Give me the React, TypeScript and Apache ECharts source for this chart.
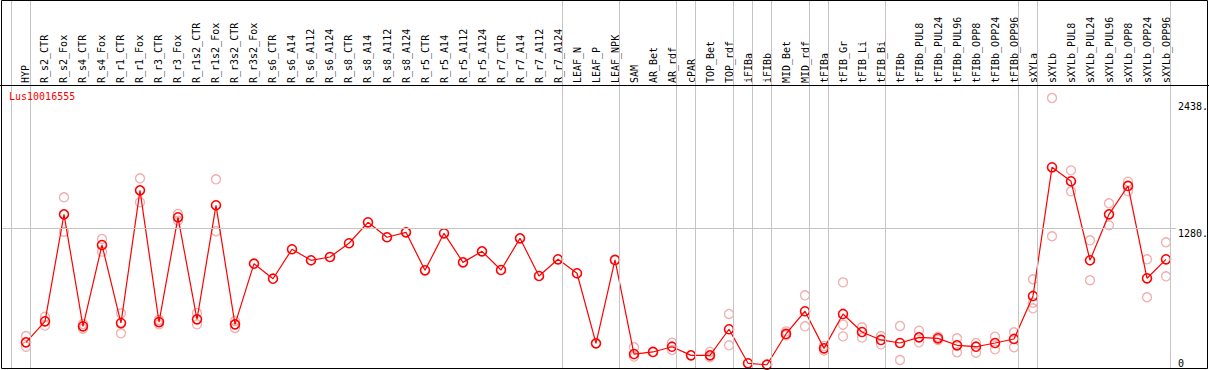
import React, { useEffect, useRef } from "react";
import * as echarts from "echarts";

const geneName = "Lus10016555";

const categories = [
  "HYP", "R_s2_CTR", "R_s2_Fox", "R_s4_CTR", "R_s4_Fox", "R_r1_CTR", "R_r1_Fox",
  "R_r3_CTR", "R_r3_Fox", "R_r1s2_CTR", "R_r1s2_Fox", "R_r3s2_CTR", "R_r3s2_Fox",
  "R_s6_CTR", "R_s6_A14", "R_s6_A112", "R_s6_A124", "R_s8_CTR", "R_s8_A14",
  "R_s8_A112", "R_s8_A124", "R_r5_CTR", "R_r5_A14", "R_r5_A112", "R_r5_A124",
  "R_r7_CTR", "R_r7_A14", "R_r7_A112", "R_r7_A124", "LEAF_N", "LEAF_P", "LEAF_NPK",
  "SAM", "AR_Bet", "AR_rdf", "cPAR", "TOP_Bet", "TOP_rdf", "iFIBa", "iFIBb",
  "MID_Bet", "MID_rdf", "tFIBa", "tFIB_Gr", "tFIB_Li", "tFIB_Bi", "tFIBb",
  "tFIBb_PUL8", "tFIBb_PUL24", "tFIBb_PUL96", "tFIBb_OPP8", "tFIBb_OPP24", "tFIBb_OPP96",
  "sXYLa", "sXYLb", "sXYLb_PUL8", "sXYLb_PUL24", "sXYLb_PUL96", "sXYLb_OPP8",
  "sXYLb_OPP24", "sXYLb_OPP96",
];

const meanValues = [
  235, 428, 1408, 382, 1127, 412, 1628, 421, 1381, 446, 1491, 400, 956,
  818, 1088, 987, 1017, 1143, 1335, 1198, 1243, 895, 1234, 968, 1069,
  898, 1188, 843, 996, 868, 226, 990,
  128, 147, 195, 116, 116, 355, 43, 30,
  312, 520, 180, 495, 330, 257, 229,
  281, 272, 208, 195, 229, 266,
  660, 1839, 1711, 987, 1408, 1668, 822, 996,
];

const replicateValues: number[][] = [
  [293, 195], [470, 388], [1564, 1249], [403, 360], [1182, 1066], [501, 318], [1738, 1518],
  [440, 400], [1411, 1350], [504, 400], [1729, 1253], [431, 367], [],
  [], [], [], [], [], [],
  [], [], [], [], [], [],
  [], [], [], [], [], [], [],
  [190, 104], [], [232, 165], [], [147, 98], [495, 208], [], [],
  [336, 300], [666, 382], [202, 159], [785, 397, 290], [373, 278], [293, 217], [385, 73],
  [342, 235], [287, 257], [272, 144], [229, 140], [287, 171], [327, 190],
  [813, 598, 547], [2474, 1207], [1811, 1619], [1170, 804], [1509, 1307], [1707, 1619],
  [996, 648], [1152, 840],
];

// first category of each sample group (a divider is drawn before each, plus one after the last)
const groupStarts = [
  "HYP", "R_s2_CTR", "LEAF_N", "SAM", "cPAR", "TOP_Bet", "iFIBa", "iFIBb",
  "MID_Bet", "tFIBa", "tFIB_Gr", "tFIBb", "sXYLa", "sXYLb",
];

const yTickLabels = [1280, 2438];
const yZeroLabel = [0];
const referenceLevel = 1280;

const MONO = "'DejaVu Sans Mono', 'Liberation Mono', monospace";

export default function App() {
  const ref = useRef<HTMLDivElement>(null);

  useEffect(() => {
    if (!ref.current) return;
    const chart = echarts.init(ref.current, undefined, { renderer: "svg" });

    const meanData = meanValues.map((v, i) => [i, v]);
    const repData: number[][] = [];
    replicateValues.forEach((arr, i) => arr.forEach((v) => repData.push([i, v])));

    const dividerShift = 0.237;
    const dividers = groupStarts.map((name) => ({ xAxis: categories.indexOf(name) - 1 + dividerShift }));
    dividers.push({ xAxis: categories.length - 1 + dividerShift });

    const gray = "#c4c4c4";

    const option: any = {
      animation: false,
      backgroundColor: "#ffffff",
      title: {
        text: geneName,
        left: 9,
        top: 91,
        padding: 0,
        textStyle: { fontFamily: MONO, fontSize: 10, fontWeight: "normal", color: "#ff0000" },
      },
      grid: {
        left: 2,
        top: 0,
        width: 1174,
        height: 368,
        containLabel: false,
        outerBoundsMode: "none",
      },
      xAxis: {
        type: "value",
        position: "top",
        offset: -85,
        min: -1.263,
        max: 60.526,
        axisLine: { show: false },
        axisTick: { show: false },
        splitLine: { show: false },
        axisLabel: {
          customValues: categories.map((_, i) => i),
          formatter: (v: number) => categories[Math.round(v)] ?? "",
          rotate: 90,
          margin: 2,
          fontFamily: MONO,
          fontSize: 10,
          color: "#000000",
        },
      },
      yAxis: [
        {
          type: "value",
          position: "right",
          min: 0,
          max: 3372,
          axisLine: { show: false },
          axisTick: { show: false },
          splitLine: { show: false },
          axisLabel: {
            customValues: yTickLabels,
            formatter: (v: number) => `${v}.`,
            verticalAlign: "top",
            margin: 2,
            fontFamily: MONO,
            fontSize: 10,
            color: "#000000",
          },
        },
        {
          type: "value",
          position: "right",
          min: 0,
          max: 3372,
          axisLine: { show: false },
          axisTick: { show: false },
          splitLine: { show: false },
          axisLabel: {
            customValues: yZeroLabel,
            formatter: (v: number) => `${v}`,
            verticalAlign: "bottom",
            margin: 2,
            fontFamily: MONO,
            fontSize: 10,
            color: "#000000",
          },
        },
      ],
      series: [
        {
          type: "scatter",
          data: repData,
          symbol: "circle",
          symbolSize: 9,
          itemStyle: { color: "rgba(0,0,0,0)", borderColor: "#ee9999", borderWidth: 1.3 },
          markLine: {
            silent: true,
            symbol: "none",
            label: { show: false },
            lineStyle: { color: gray, width: 1, type: "solid" },
            data: [...dividers, { yAxis: referenceLevel }],
          },
          z: 2,
        },
        {
          type: "line",
          data: meanData,
          symbol: "circle",
          symbolSize: 9,
          showAllSymbol: true,
          lineStyle: { color: "#ff0000", width: 1.2 },
          itemStyle: { color: "rgba(0,0,0,0)", borderColor: "#ff0000", borderWidth: 1.6 },
          z: 3,
        },
      ],
      graphic: [
        {
          type: "rect",
          shape: { x: 1.5, y: 0.5, width: 1206, height: 368 },
          style: { fill: "none", stroke: "#000000", lineWidth: 1 },
          silent: true,
          z: 10,
        },
        {
          type: "line",
          shape: { x1: 0, y1: 85.5, x2: 1209, y2: 85.5 },
          style: { stroke: "#000000", lineWidth: 1 },
          silent: true,
          z: 10,
        },
      ],
    };

    chart.setOption(option);
    return () => chart.dispose();
  }, []);

  return (
    <div
      ref={ref}
      style={{ position: "fixed", left: 0, top: 0, width: 1209, height: 370, background: "#fff" }}
    />
  );
}
